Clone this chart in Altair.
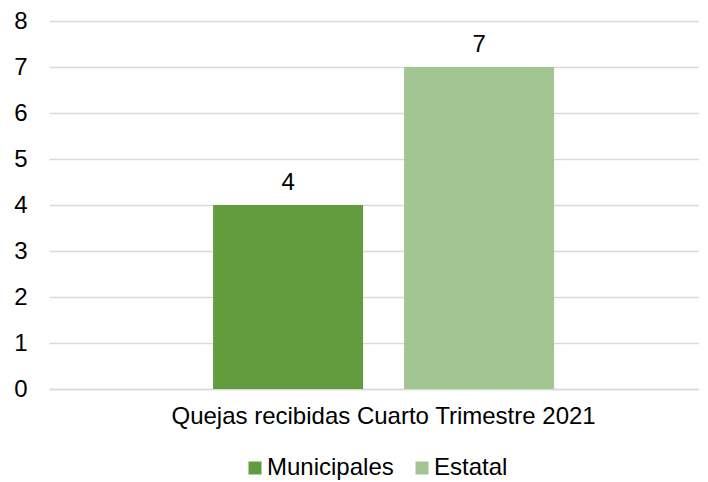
import altair as alt
import pandas as pd

categoria = ["Quejas recibidas Cuarto Trimestre 2021"]
series = ["Municipales", "Estatal"]
valores = [4, 7]
colores = ["#629c3f", "#a3c592"]

df = pd.DataFrame({
    "cat": [categoria[0]] * len(series),
    "serie": series,
    "valor": valores,
})

FONT = "Liberation Sans"
FS = 24

x = alt.X("cat:N", title=None,
          scale=alt.Scale(paddingInner=0, paddingOuter=0.453, align=0.531),
          axis=alt.Axis(labelAngle=0, labelFontSize=FS, labelColor="#000000", labelFont=FONT,
                        labelLimit=0, ticks=False, domainColor="#d9d9d9", domainWidth=1.5,
                        labelPadding=15))
xoff = alt.XOffset("serie:N", sort=series, scale=alt.Scale(paddingInner=0.2147, paddingOuter=0))
y = alt.Y("valor:Q", title=None,
          scale=alt.Scale(domain=[0, 8]),
          axis=alt.Axis(values=list(range(9)), labelFontSize=FS, labelColor="#000000", labelFont=FONT,
                        ticks=False, domain=False, gridColor="#d9d9d9", gridWidth=1.5, labelPadding=22))

bars = alt.Chart(df).mark_bar().encode(
    x=x, xOffset=xoff, y=y,
    color=alt.Color("serie:N", sort=series,
                    scale=alt.Scale(domain=series, range=colores),
                    legend=alt.Legend(title=None, orient="none", direction="horizontal",
                                      legendX=194, legendY=435,
                                      symbolType="square", symbolSize=169, symbolStrokeWidth=0,
                                      labelFontSize=FS, labelFont=FONT, labelColor="#000000",
                                      labelOffset=0, columnPadding=16)),
)

labels = alt.Chart(df).mark_text(fontSize=FS, font=FONT, color="#000000", baseline="alphabetic", dy=-15).encode(
    x=alt.X("cat:N"), xOffset=alt.XOffset("serie:N", sort=series), y=alt.Y("valor:Q"),
    text=alt.Text("valor:Q"),
)

chart = (bars + labels).properties(
    width=650, height=368, padding={"left": 5, "top": 1, "right": 0, "bottom": 0}
).configure_view(stroke=None)

chart.save("out.html", embed_options={"renderer": "svg", "actions": False})
